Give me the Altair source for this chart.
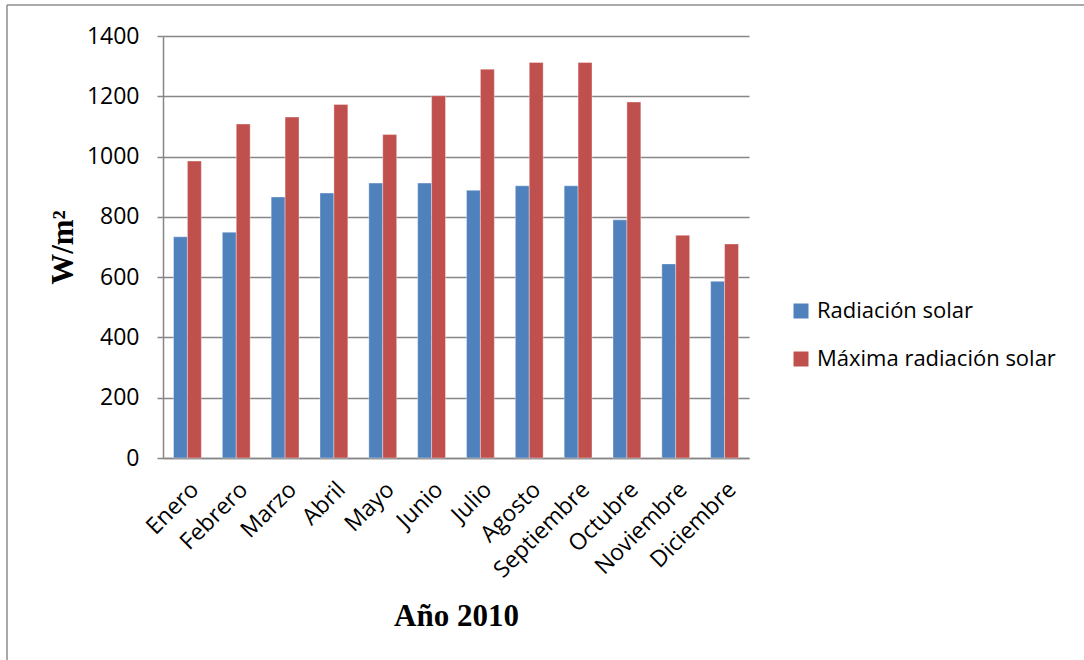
import altair as alt
import pandas as pd

# Monthly solar radiation, 2010 (W/m²)
meses = ["Enero", "Febrero", "Marzo", "Abril", "Mayo", "Junio", "Julio",
         "Agosto", "Septiembre", "Octubre", "Noviembre", "Diciembre"]
radiacion = [734, 749, 866, 879, 912, 912, 888, 903, 903, 790, 644, 586]
maxima = [985, 1108, 1131, 1173, 1073, 1202, 1290, 1312, 1312, 1181, 739, 710]
series = ["Radiación solar", "Máxima radiación solar"]
colores = ["#4F81BD", "#C0504D"]
y_ticks = [0, 200, 400, 600, 800, 1000, 1200, 1400]

df = pd.DataFrame({
    "Mes": meses * 2,
    "Serie": [series[0]] * len(meses) + [series[1]] * len(meses),
    "Valor": radiacion + maxima,
})

W, H = 586, 422
LEFT, TOP = 163, 36
GRAY = "#868686"

bars = alt.Chart(df).mark_bar(stroke="white", strokeOpacity=0.45, strokeWidth=0.8).encode(
    x=alt.X(
        "Mes:N", sort=meses,
        scale=alt.Scale(paddingInner=0.43, paddingOuter=0.215),
        axis=alt.Axis(
            title="Año 2010", labelAngle=-45, ticks=False, grid=False,
            labelPadding=20, domainColor=GRAY, domainWidth=1.5,
            titleX=W / 2, titleY=167, titleAlign="center", titleBaseline="alphabetic",
        ),
    ),
    xOffset=alt.XOffset("Serie:N", sort=series),
    y=alt.Y(
        "Valor:Q",
        scale=alt.Scale(domain=[0, 1400], nice=False),
        axis=alt.Axis(
            values=y_ticks, format="d", title="W/m²", grid=True, gridColor=GRAY, gridWidth=1.5,
            domainColor=GRAY, domainWidth=1.5, tickColor=GRAY, tickWidth=1.5,
            tickSize=6, labelPadding=18,
            titleX=-91, titleY=H / 2, titleAlign="center", titleBaseline="alphabetic",
        ),
    ),
    color=alt.Color(
        "Serie:N", sort=series, title=None,
        scale=alt.Scale(domain=series, range=colores),
        legend=alt.Legend(
            orient="none", legendX=627, legendY=264, symbolType="square",
            symbolSize=225, symbolStrokeWidth=0, labelOffset=5, rowPadding=26,
        ),
    ),
)

# outer frame of the figure (left and top edges)
anchor = pd.DataFrame({"k": [0]})
frame_v = alt.Chart(anchor).mark_rule(color="#8c8c8c", strokeWidth=1.5).encode(
    x=alt.value(7 - LEFT), y=alt.value(5 - TOP), y2=alt.value(800)
)
frame_h = alt.Chart(anchor).mark_rule(color="#8c8c8c", strokeWidth=1.5).encode(
    x=alt.value(7 - LEFT), x2=alt.value(1200), y=alt.value(5 - TOP)
)

chart = alt.layer(frame_v, frame_h, bars).properties(
    width=W, height=H,
    autosize=alt.AutoSizeParams(type="none"),
    padding={"left": LEFT, "top": TOP, "right": 1084 - LEFT - W, "bottom": 660 - TOP - H},
    background="white",
).configure_view(stroke=None).configure_axis(
    labelFont="Open Sans", labelFontSize=23, labelColor="black",
    titleFont="Liberation Serif", titleFontSize=31, titleFontWeight="bold", titleColor="black",
).configure_legend(
    labelFont="Open Sans", labelFontSize=22, labelColor="black", labelLimit=400,
)

chart.save("out.html", embed_options={"renderer": "svg", "actions": False})
